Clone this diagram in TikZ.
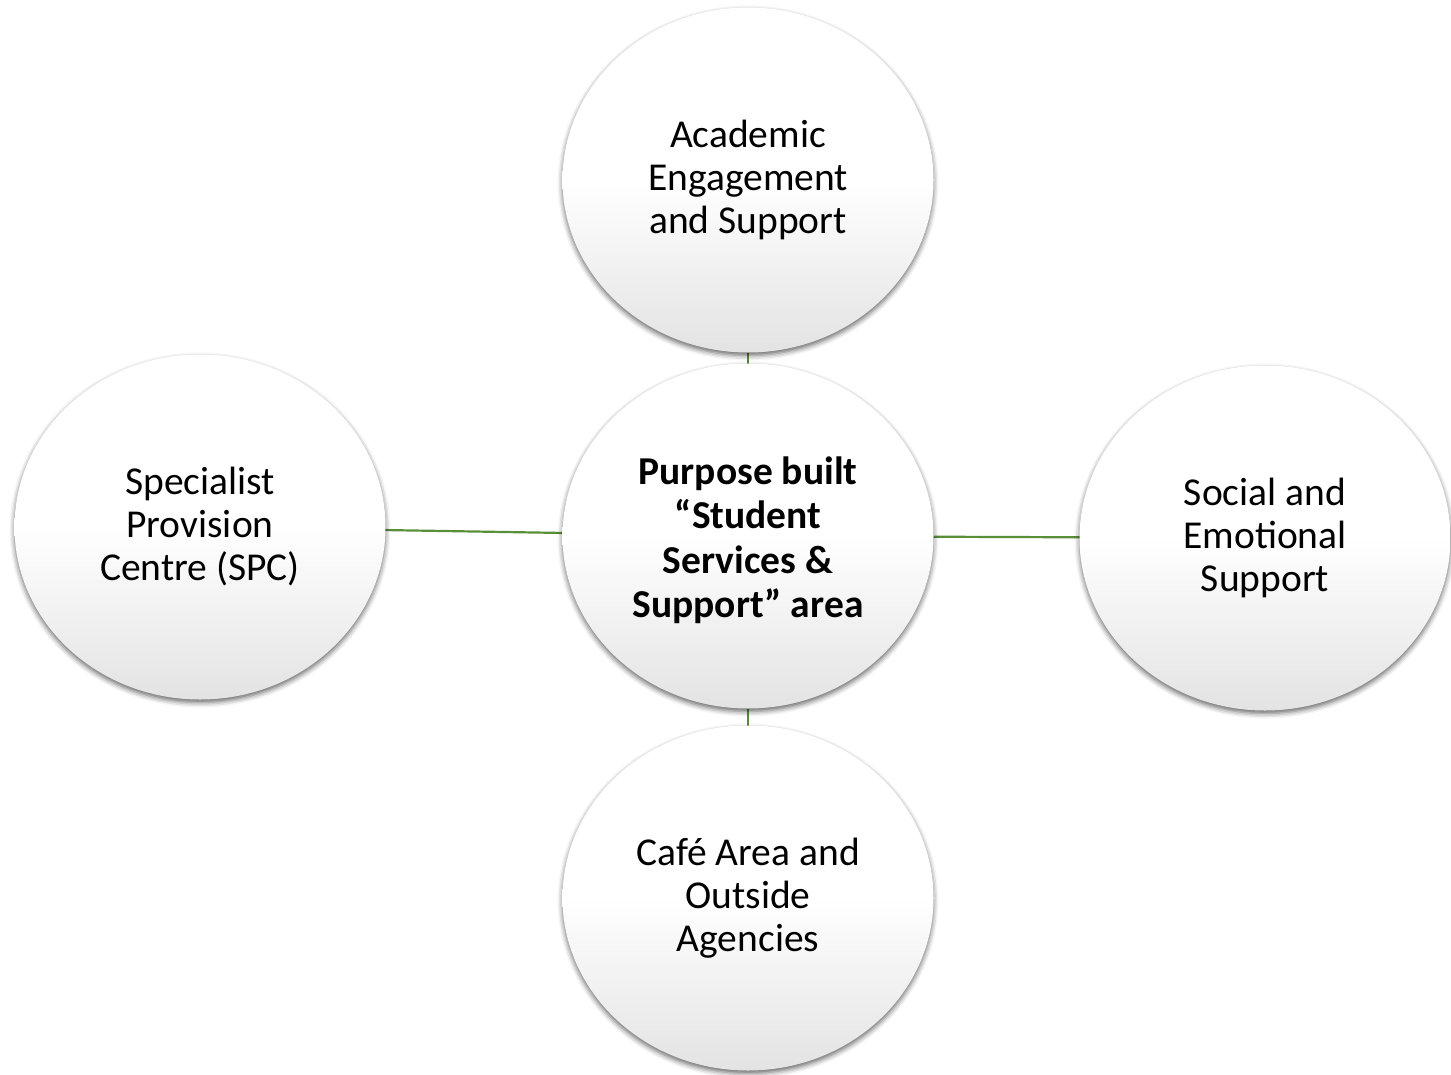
\documentclass[tikz,border=0pt]{standalone}
\usepackage{fontspec}
\setmainfont{Carlito}
\usetikzlibrary{shapes.geometric,shadows.blur,backgrounds}
\definecolor{linkgreen}{HTML}{5A8F3A}
% white upper half, fading to light grey towards the bottom
\pgfdeclareverticalshading{bubbleshade}{100bp}{%
  color(0bp)=(black!11); color(25bp)=(black!11); color(50bp)=(white); color(100bp)=(white)}
\begin{document}
\begin{tikzpicture}[x=1pt,y=1pt,
  bubble/.style={ellipse, minimum width=371pt, minimum height=345pt, inner sep=0pt,
    shading=bubbleshade,
    blur shadow={shadow xshift=0pt, shadow yshift=-3pt, shadow blur radius=5pt, shadow opacity=60},
    align=center, font=\fontsize{39.5}{43}\selectfont},
  hubtext/.style={font=\fontsize{39.5}{44.5}\selectfont\bfseries},
  link/.style={draw=linkgreen, line width=2.2pt}]
\useasboundingbox (0,0) rectangle (1451,-1074);

\node[bubble] (top) at (748,-180) {Academic\\Engagement\\and Support};
\node[bubble] (hub) at (748,-536) {};
\node[hubtext, align=center] (hubtxt) at (748,-540) {Purpose built\\“Student\\Services \&\\Support” area};
\node[bubble] (left) at (200,-527) {Specialist\\Provision\\Centre (SPC)};
\node[bubble] (right) at (1265,-538) {Social and\\Emotional\\Support};
\node[bubble] (bottom) at (748,-898) {Café Area and\\Outside\\Agencies};

\begin{scope}[on background layer]
  \draw[link] (hub.center) -- (top.center);
  \draw[link] (hub.center) -- (bottom.center);
  \draw[link] (hub.center) -- (left.center);
  \draw[link] (hub.center) -- (right.center);
\end{scope}
\end{tikzpicture}
\end{document}
